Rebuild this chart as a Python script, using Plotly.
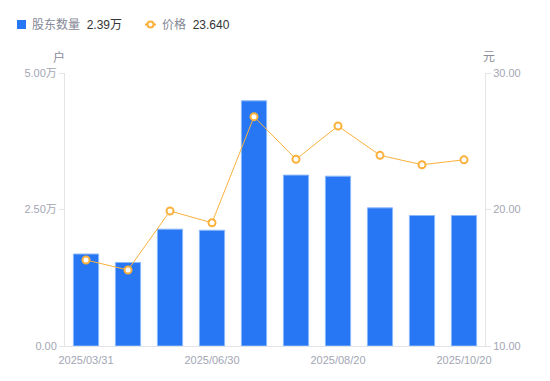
import plotly.graph_objects as go

dates = ["2025/03/31", "2025/04/30", "2025/05/31", "2025/06/30", "2025/07/10",
         "2025/07/31", "2025/08/20", "2025/09/10", "2025/09/30", "2025/10/20"]
holders = [16850, 15300, 21400, 21200, 44900, 31300, 31100, 25300, 23900, 23900]
prices = [16.30, 15.57, 19.89, 19.03, 26.80, 23.68, 26.12, 23.97, 23.28, 23.64]

tick_dates = ["2025/03/31", "2025/06/30", "2025/08/20", "2025/10/20"]
left_vals = [0, 25000, 50000]
left_text = ["0.00", "2.50万", "5.00万"]
right_vals = [10, 20, 30]
right_text = ["10.00", "20.00", "30.00"]

FONT = "Liberation Sans, Noto Sans CJK SC, sans-serif"
GRAY = "#a3a6b4"
AXIS = "#e3e4e8"
BLUE = "#2777f5"
ORANGE = "#fbb13c"

fig = go.Figure()
fig.add_trace(go.Bar(x=dates, y=holders, width=0.6,
                     marker=dict(color=BLUE, line=dict(color="#8cb8fa", width=1)),
                     showlegend=False, yaxis="y"))
fig.add_trace(go.Scatter(x=dates, y=prices, mode="lines+markers", yaxis="y2",
                         line=dict(color=ORANGE, width=1),
                         marker=dict(size=7, color="white", line=dict(color=ORANGE, width=2)),
                         showlegend=False))

# page has an 8px body margin; figure coordinates are page coords minus OFF
OFF = 8
W, H = 550 - OFF, 381 - OFF
PL, PR, PT, PB = 65, 485, 73, 346  # plot area in page pixels
L = PL - OFF
T = PT - OFF
R = W - (PR - OFF)
B = H - (PB - OFF)

def px(x):
    return ((x - OFF) - L) / (W - L - R)

def py(y):
    return (H - B - (y - OFF)) / (H - T - B)

fig.update_layout(
    width=W, height=H,
    margin=dict(l=L, r=R, t=T, b=B, pad=0),
    paper_bgcolor="white", plot_bgcolor="white",
    font=dict(family=FONT, size=11, color=GRAY),
    xaxis=dict(type="category", categoryorder="array", categoryarray=dates,
               range=[-0.5, 9.5], tickvals=tick_dates, ticktext=tick_dates,
               showline=True, linecolor=AXIS, linewidth=1, ticks="",
               ticklabelstandoff=4,
               showgrid=False, zeroline=False, tickfont=dict(size=11, color=GRAY)),
    yaxis=dict(range=[0, 50000], tickvals=left_vals, ticktext=left_text,
               showline=True, linecolor=AXIS, linewidth=1, ticks="outside",
               ticklen=5, tickcolor=AXIS, showgrid=False, zeroline=False,
               tickfont=dict(size=11, color=GRAY)),
    yaxis2=dict(range=[10, 30], tickvals=right_vals, ticktext=right_text,
                overlaying="y", side="right",
                showline=True, linecolor=AXIS, linewidth=1, ticks="outside",
                ticklen=5, tickcolor=AXIS, showgrid=False, zeroline=False,
                tickfont=dict(size=11, color=GRAY)),
)

# axis unit titles
fig.add_annotation(text="户", x=px(59), y=py(57), xref="paper", yref="paper",
                   showarrow=False, font=dict(size=12, color="#8a8d99"),
                   xanchor="center", yanchor="middle")
fig.add_annotation(text="元", x=px(489), y=py(57), xref="paper", yref="paper",
                   showarrow=False, font=dict(size=12, color="#8a8d99"),
                   xanchor="center", yanchor="middle")

# custom legend
fig.add_shape(type="rect", xref="paper", yref="paper",
              x0=px(17), x1=px(26), y0=py(20), y1=py(29),
              fillcolor=BLUE, line=dict(width=0))
fig.add_annotation(text="<span style='color:#858896'>股东数量</span>  <span style='color:#333333'>2.39万</span>",
                   x=px(30), y=py(24.5), xref="paper", yref="paper", showarrow=False,
                   xanchor="left", yanchor="middle", font=dict(size=12))
fig.add_shape(type="line", xref="paper", yref="paper",
              x0=px(145), x1=px(156), y0=py(24.5), y1=py(24.5),
              line=dict(color=ORANGE, width=2))
fig.add_shape(type="circle", xref="paper", yref="paper",
              x0=px(147.5), x1=px(153.5), y0=py(21.5), y1=py(27.5),
              fillcolor="white", line=dict(color=ORANGE, width=2))
fig.add_annotation(text="<span style='color:#858896'>价格</span>  <span style='color:#333333'>23.640</span>",
                   x=px(160), y=py(24.5), xref="paper", yref="paper", showarrow=False,
                   xanchor="left", yanchor="middle", font=dict(size=12))

fig.write_html("out.html")
